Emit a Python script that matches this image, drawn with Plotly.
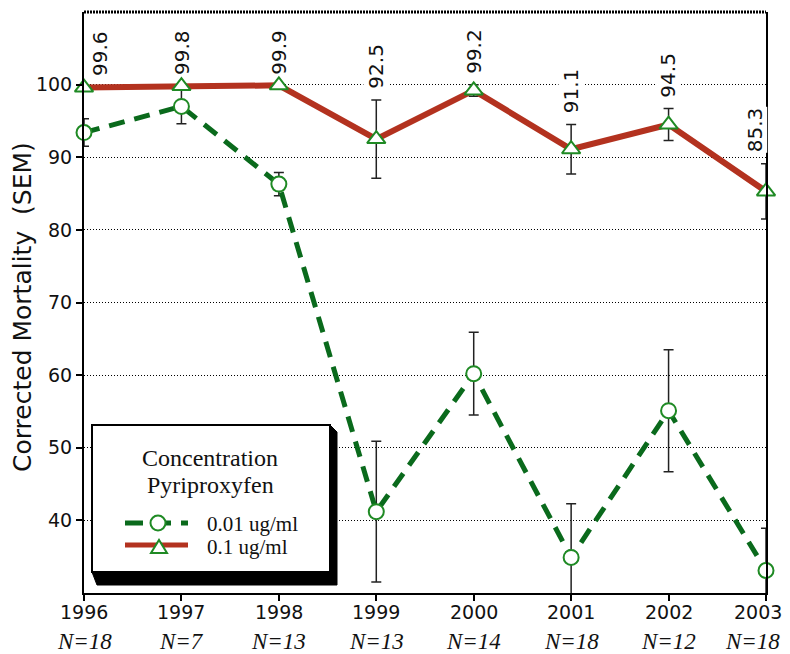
import plotly.graph_objects as go

# ---------------- data ----------------
years = [1996, 1997, 1998, 1999, 2000, 2001, 2002, 2003]
n_labels = ["N=18", "N=7", "N=13", "N=13", "N=14", "N=18", "N=12", "N=18"]
mort_001 = [93.4, 97.0, 86.3, 41.2, 60.2, 34.9, 55.1, 33.1]   # 0.01 ug/ml
sem_001 = [1.9, 2.4, 1.6, 9.7, 5.7, 7.4, 8.4, 5.8]
mort_01 = [99.6, 99.8, 99.9, 92.5, 99.2, 91.1, 94.5, 85.3]    # 0.1 ug/ml
sem_01 = [0.0, 0.0, 0.0, 5.4, 0.8, 3.4, 2.2, 3.8]
y_ticks = [40, 50, 60, 70, 80, 90, 100]
series_names = ["0.01 ug/ml", "0.1 ug/ml"]
legend_title = ["Concentration", "Pyriproxyfen"]

# ---------------- styles ----------------
GREEN_LINE = "#0a6a1c"
GREEN_MK = "#1f8a24"
RED = "#b3321f"
ERR = "#222222"
SANS = "DejaVu Sans, Verdana, sans-serif"
SERIF = "Liberation Serif, Times New Roman, serif"

# page body has an 8px margin: the figure is drawn offset by it
OFF = 8
W, H = 790 - OFF, 654 - OFF
# plot area in screen pixels
L, R, T, B = 84, 766, 12, 593


def px(x):
    return (x - L) / (R - L)


def py(y):
    return (B - y) / (B - T)


fig = go.Figure()

# lines + error bars (clipped to plot area)
fig.add_trace(go.Scatter(
    x=years, y=mort_001, mode="lines", showlegend=False,
    line=dict(color=GREEN_LINE, width=5, dash="16px,10px"),
    error_y=dict(type="data", array=sem_001, visible=True, color=ERR, thickness=1.5, width=5),
    cliponaxis=True, hoverinfo="skip"))
fig.add_trace(go.Scatter(
    x=years, y=mort_01, mode="lines", showlegend=False,
    line=dict(color=RED, width=6),
    error_y=dict(type="data", array=sem_01, visible=True, color=ERR, thickness=1.5, width=5),
    cliponaxis=True, hoverinfo="skip"))
# markers (not clipped)
fig.add_trace(go.Scatter(
    x=years, y=mort_001, mode="markers", name=series_names[0], showlegend=False,
    marker=dict(symbol="circle", size=15, color="white", line=dict(color=GREEN_MK, width=2)),
    cliponaxis=False))
fig.add_trace(go.Scatter(
    x=years, y=mort_01, mode="markers", name=series_names[1], showlegend=False,
    marker=dict(symbol="triangle-up", size=16, color="white", line=dict(color=GREEN_MK, width=2)),
    cliponaxis=False))

annotations = []
last = len(years) - 1
# value labels above the 0.1 ug/ml points
for i, (yr, v, e) in enumerate(zip(years, mort_01, sem_01)):
    xs = 16 if i == 0 else (-11 if i == last else 0)
    annotations.append(dict(
        x=yr, y=v + e, xref="x", yref="y", text=f"{v:.1f}", showarrow=False,
        textangle=-90, xanchor="center", yanchor="bottom", yshift=10, xshift=xs,
        bgcolor="white", borderpad=0,
        font=dict(family=SANS, size=20, color="#111")))
# year labels and N labels under the x axis
for i, (yr, nl) in enumerate(zip(years, n_labels)):
    annotations.append(dict(
        x=yr, y=py(612), xref="x", yref="paper", text=str(yr), showarrow=False,
        xanchor="center", yanchor="middle", xshift=(-8 if i == last else 0),
        font=dict(family=SANS, size=19, color="#111")))
    annotations.append(dict(
        x=yr, y=py(641), xref="x", yref="paper", text=f"<i>{nl}</i>", showarrow=False,
        xanchor="center", yanchor="middle", xshift=(-14 if i == last else 0),
        font=dict(family=SERIF, size=23, color="#111")))
# y axis title
annotations.append(dict(
    x=px(23), y=py(307), xref="paper", yref="paper", text="Corrected Mortality  (SEM)",
    showarrow=False, textangle=-90, xanchor="center", yanchor="middle",
    font=dict(family=SANS, size=25, color="#111")))
# legend texts
annotations.append(dict(x=px(210), y=py(458), xref="paper", yref="paper", text=legend_title[0],
                        showarrow=False, xanchor="center", yanchor="middle",
                        font=dict(family=SERIF, size=24, color="#111")))
annotations.append(dict(x=px(210), y=py(485), xref="paper", yref="paper", text=legend_title[1],
                        showarrow=False, xanchor="center", yanchor="middle",
                        font=dict(family=SERIF, size=24, color="#111")))
annotations.append(dict(x=px(205), y=py(524), xref="paper", yref="paper", text=series_names[0],
                        showarrow=False, xanchor="left", yanchor="middle",
                        font=dict(family=SERIF, size=21, color="#111")))
annotations.append(dict(x=px(205), y=py(547), xref="paper", yref="paper", text=series_names[1],
                        showarrow=False, xanchor="left", yanchor="middle",
                        font=dict(family=SERIF, size=21, color="#111")))

shapes = [
    # dotted top border
    dict(type="line", xref="paper", yref="paper", x0=0, x1=1, y0=1, y1=1,
         line=dict(color="black", width=3, dash="2px,1px"), layer="above"),
    # legend shadow
    dict(type="path", xref="paper", yref="paper", layer="above",
         path=(f"M {px(92)},{py(572)} L {px(97)},{py(585)} L {px(337)},{py(585)} "
               f"L {px(337)},{py(432)} L {px(330)},{py(425)} Z"),
         fillcolor="black", line=dict(color="black", width=1)),
    # legend box
    dict(type="rect", xref="paper", yref="paper", layer="above",
         x0=px(92), x1=px(330), y0=py(572), y1=py(425),
         fillcolor="white", line=dict(color="black", width=2)),
    # legend line samples
    dict(type="line", xref="paper", yref="paper", layer="above",
         x0=px(125), x1=px(188), y0=py(523), y1=py(523),
         line=dict(color=GREEN_LINE, width=5, dash="18px,10px")),
    dict(type="line", xref="paper", yref="paper", layer="above",
         x0=px(125), x1=px(188), y0=py(545), y1=py(545),
         line=dict(color=RED, width=5)),
    # legend markers
    dict(type="circle", xref="paper", yref="paper", layer="above",
         xsizemode="pixel", ysizemode="pixel", xanchor=px(158), yanchor=py(523),
         x0=-7.5, x1=7.5, y0=-7.5, y1=7.5,
         fillcolor="white", line=dict(color=GREEN_MK, width=2)),
    dict(type="path", xref="paper", yref="paper", layer="above",
         xsizemode="pixel", ysizemode="pixel", xanchor=px(159), yanchor=py(547),
         path="M -8,-6 L 8,-6 L 0,7 Z",
         fillcolor="white", line=dict(color=GREEN_MK, width=2)),
]

fig.update_layout(
    width=W, height=H,
    margin=dict(l=L - OFF, r=790 - R, t=T - OFF, b=654 - B, pad=0),
    paper_bgcolor="white", plot_bgcolor="white",
    showlegend=False,
    annotations=annotations, shapes=shapes,
    xaxis=dict(range=[1996, 2003], tickvals=years, showticklabels=False,
               showline=True, linecolor="black", linewidth=1.5,
               ticks="outside", ticklen=6, tickwidth=1.5, tickcolor="black",
               showgrid=False, zeroline=False, automargin=False),
    yaxis=dict(range=[30, 110], tickvals=y_ticks,
               showline=True, linecolor="black", linewidth=2, mirror=True,
               ticks="outside", ticklen=6, tickwidth=1.5, tickcolor="black",
               showgrid=True, gridcolor="black", gridwidth=1, griddash="1px,2px",
               zeroline=False, automargin=False,
               tickfont=dict(family=SANS, size=19, color="#111")),
)

fig.write_html("out.html")
